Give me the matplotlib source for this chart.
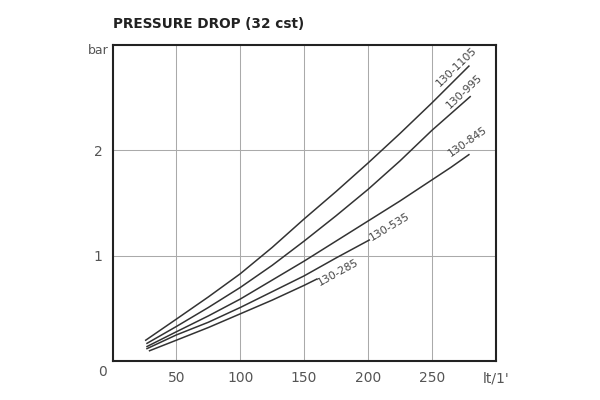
import matplotlib
matplotlib.use("Agg")
import matplotlib.pyplot as plt

# flow (lt/min) vs pressure drop (bar)
x_1105 = [26, 50, 75, 100, 125, 150, 175, 200, 225, 250, 279]
y_1105 = [0.20, 0.40, 0.61, 0.83, 1.08, 1.35, 1.61, 1.88, 2.16, 2.45, 2.80]
x_995 = [27, 50, 75, 100, 125, 150, 175, 200, 225, 250, 265, 280]
y_995 = [0.17, 0.33, 0.51, 0.70, 0.91, 1.14, 1.38, 1.63, 1.90, 2.19, 2.35, 2.51]
x_845 = [27, 50, 75, 100, 125, 150, 175, 200, 225, 250, 265, 279]
y_845 = [0.14, 0.28, 0.43, 0.59, 0.77, 0.95, 1.14, 1.33, 1.52, 1.72, 1.84, 1.96]
x_535 = [27, 50, 75, 100, 125, 150, 175, 201]
y_535 = [0.12, 0.25, 0.37, 0.51, 0.66, 0.81, 0.98, 1.15]
x_285 = [29, 50, 75, 100, 125, 150, 160]
y_285 = [0.10, 0.20, 0.32, 0.45, 0.58, 0.72, 0.78]

series = [
    ("130-1105", x_1105, y_1105),
    ("130-995", x_995, y_995),
    ("130-845", x_845, y_845),
    ("130-535", x_535, y_535),
    ("130-285", x_285, y_285),
]
# label position (data) and angle
label_pos = {
    "130-1105": (269, 2.79, 44),
    "130-995": (275, 2.56, 43),
    "130-845": (278, 2.08, 35),
    "130-535": (217, 1.28, 31),
    "130-285": (177, 0.84, 29),
}

xticks = [50, 100, 150, 200, 250, 300]
xtick_labels = ["50", "100", "150", "200", "250", "lt/1'"]
yticks = [1, 2]

plt.rcParams["font.family"] = ["DejaVu Sans"]
fig = plt.figure(figsize=(6, 4), dpi=100)
ax = fig.add_axes([0.1875, 0.0968, 0.6387, 0.7907])

for name, xs, ys in series:
    ax.plot(xs, ys, color="#333333", lw=1.1)
    lx, ly, rot = label_pos[name]
    ax.text(lx, ly, name, rotation=rot, ha="center", va="center",
            fontsize=7.8, color="#444444")

ax.set_xlim(0, 300)
ax.set_ylim(0, 3)
ax.set_xticks(xticks)
ax.set_xticklabels(xtick_labels)
ax.set_yticks(yticks)
ax.grid(True, color="#aaaaaa", lw=0.75)
ax.tick_params(length=0, labelsize=10, colors="#555555")
ax.tick_params(axis="x", pad=7)
ax.tick_params(axis="y", pad=7)
for s in ax.spines.values():
    s.set_linewidth(1.5)
    s.set_color("#222222")

ax.annotate("0", xy=(0, 0), xytext=(-7.5, -7.7), textcoords="offset points",
            ha="center", va="center", fontsize=10, color="#555555")
ax.annotate("bar", xy=(0, 3), xytext=(-10, -3.6), textcoords="offset points",
            ha="center", va="center", fontsize=9, color="#555555")

fig.text(113 / 600, 1 - 24 / 400, "PRESSURE DROP (32 cst)", ha="left", va="center",
         fontsize=9.8, fontweight="semibold", color="#222222")

fig.savefig("out.png", dpi=100)
